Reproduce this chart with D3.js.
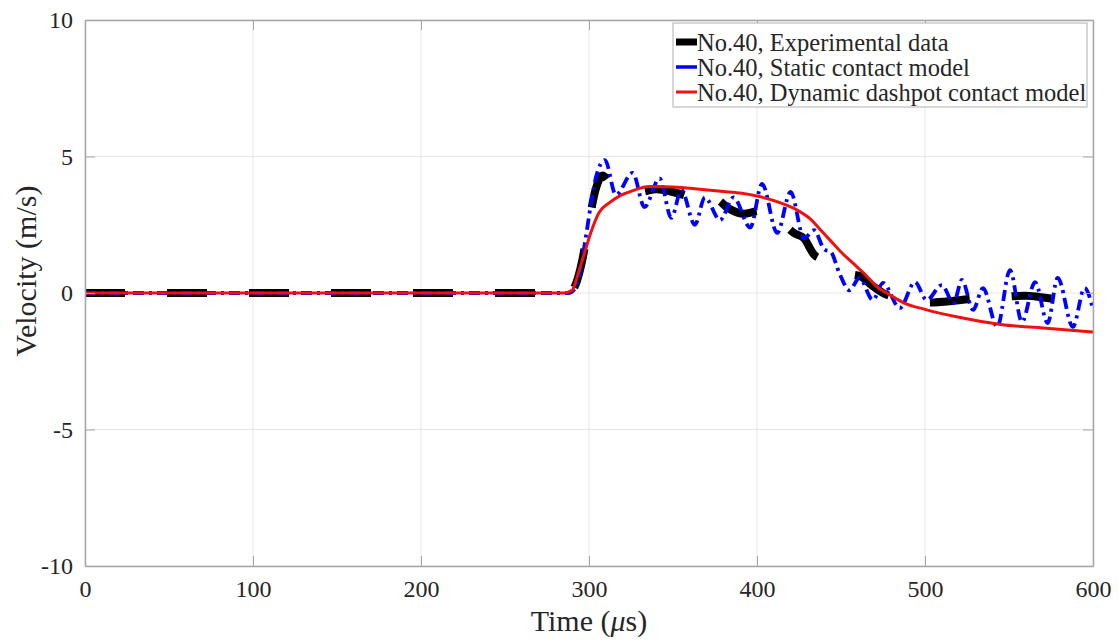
<!DOCTYPE html>
<html>
<head>
<meta charset="utf-8">
<script src="https://cdn.jsdelivr.net/npm/d3@7"></script>
<style>
  html, body { margin: 0; padding: 0; background: #fff; }
  svg { display: block; }
  svg text { font-family: "Liberation Serif", "Times New Roman", serif; }
</style>
</head>
<body>
<svg id="chart" width="1118" height="642"></svg>
<script>
// Axis ticks
const timeTicks = [0, 100, 200, 300, 400, 500, 600];
const velocityTicks = [-10, -5, 0, 5, 10];

// No.40, Experimental data (time in µs, velocity in m/s)
const expTime = [0, 288, 292, 296, 300, 304, 308, 313, 320, 330, 340, 350, 360, 368, 375, 383, 392, 400, 408, 415, 422, 428, 434, 440, 447, 455, 462, 468, 475, 485, 500, 515, 530, 545, 560, 575, 590, 600];
const expVel  = [0, 0, 0.3, 1.2, 2.6, 3.8, 4.3, 4.0, 3.8, 3.7, 3.8, 3.7, 3.5, 3.2, 3.45, 3.1, 2.9, 3.0, 3.05, 2.6, 2.2, 2.0, 1.4, 1.2, 0.9, 0.7, 0.6, 0.3, 0.0, -0.2, -0.35, -0.3, -0.2, -0.15, -0.1, -0.2, -0.25, -0.3];

// No.40, Static contact model
const staticTime = [0, 288, 292, 295, 298, 301, 304, 309.5, 316, 326, 333, 342, 349, 355, 363, 369, 378, 386, 396, 403, 412, 420, 428, 434, 440, 444, 449, 455, 461, 469, 475, 485, 494, 501, 510, 517, 522, 528.6, 534.5, 543, 550.6, 557.7, 565.5, 573, 579, 588, 595, 600];
const staticVel  = [0, 0, 0.2, 0.9, 2.0, 3.2, 4.2, 4.87, 3.6, 4.4, 3.15, 4.2, 2.75, 3.77, 2.5, 3.5, 2.67, 3.5, 2.4, 4.0, 2.2, 3.7, 2.0, 2.3, 1.6, 1.5, 0.73, 0.1, 0.55, -0.26, 0.37, -0.55, 0.4, -0.26, 0.29, -0.37, 0.48, -0.62, 0.18, -1.24, 0.84, -1.06, 0.4, -1.1, 0.55, -1.24, 0.18, -0.6];

// No.40, Dynamic dashpot contact model
const dashpotTime = [0, 285, 290, 293, 297, 301, 306, 312, 318, 326, 336, 350, 366, 380, 390, 400, 414, 425, 432, 438, 444, 450, 457, 464, 471, 480, 487, 500, 521, 545, 574, 600];
const dashpotVel  = [0, 0, 0.1, 0.6, 1.4, 2.2, 2.95, 3.3, 3.55, 3.75, 3.9, 3.88, 3.8, 3.72, 3.66, 3.55, 3.3, 3.0, 2.7, 2.3, 1.9, 1.5, 1.1, 0.7, 0.25, -0.1, -0.35, -0.6, -0.9, -1.15, -1.3, -1.43];

const legendLabels = ["No.40, Experimental data", "No.40, Static contact model", "No.40, Dynamic dashpot contact model"];

const serif = '"Liberation Serif", "Times New Roman", serif';
const textColor = "#262626";

const svg = d3.select("#chart");
const plot = { left: 85, right: 1093, top: 20, bottom: 566 };

const x = d3.scaleLinear().domain([0, 600]).range([plot.left, plot.right]);
const y = d3.scaleLinear().domain([-10, 10]).range([plot.bottom, plot.top]);

// Grid
const grid = svg.append("g").attr("stroke", "#e6e6e6").attr("stroke-width", 1);
timeTicks.forEach(t => grid.append("line")
  .attr("x1", x(t)).attr("x2", x(t)).attr("y1", plot.top).attr("y2", plot.bottom));
velocityTicks.forEach(v => grid.append("line")
  .attr("x1", plot.left).attr("x2", plot.right).attr("y1", y(v)).attr("y2", y(v)));

// Series
const line = d3.line().x(d => x(d[0])).y(d => y(d[1])).curve(d3.curveMonotoneX);
const zip = (a, b) => a.map((t, i) => [t, b[i]]);

svg.append("clipPath").attr("id", "plotclip").append("rect")
  .attr("x", plot.left).attr("y", plot.top)
  .attr("width", plot.right - plot.left).attr("height", plot.bottom - plot.top);

const series = svg.append("g").attr("clip-path", "url(#plotclip)");

series.append("path")
  .attr("d", line(zip(expTime, expVel)))
  .attr("fill", "none").attr("stroke", "#000")
  .attr("stroke-width", 8).attr("stroke-dasharray", "40,42");

series.append("path")
  .attr("d", line(zip(staticTime, staticVel)))
  .attr("fill", "none").attr("stroke", "#0000ff")
  .attr("stroke-width", 3.8).attr("stroke-dasharray", "11,5,3,5");

series.append("path")
  .attr("d", line(zip(dashpotTime, dashpotVel)))
  .attr("fill", "none").attr("stroke", "#f01010")
  .attr("stroke-width", 3);

// Axes box with inward ticks on all sides
const axisColor = "#a6a6a6";
const axisG = svg.append("g");
const fmt = d => String(d);
const xBottom = d3.axisBottom(x).tickValues(timeTicks).tickFormat(fmt).tickSize(-10).tickPadding(14).tickSizeOuter(0);
const xTop = d3.axisTop(x).tickValues(timeTicks).tickSize(-10).tickFormat("").tickSizeOuter(0);
const yLeft = d3.axisLeft(y).tickValues(velocityTicks).tickFormat(fmt).tickSize(-10).tickPadding(12).tickSizeOuter(0);
const yRight = d3.axisRight(y).tickValues(velocityTicks).tickSize(-10).tickFormat("").tickSizeOuter(0);

const gB = axisG.append("g").attr("transform", `translate(0,${plot.bottom})`).call(xBottom);
const gT = axisG.append("g").attr("transform", `translate(0,${plot.top})`).call(xTop);
const gL = axisG.append("g").attr("transform", `translate(${plot.left},0)`).call(yLeft);
const gR = axisG.append("g").attr("transform", `translate(${plot.right},0)`).call(yRight);

[gB, gT, gL, gR].forEach(g => {
  g.attr("font-family", serif).attr("font-size", 24);
  g.select(".domain").attr("stroke", axisColor).attr("stroke-width", 1.5);
  g.selectAll(".tick line").attr("stroke", axisColor).attr("stroke-width", 1);
  g.selectAll("text").style("font-family", serif).attr("font-size", 24).attr("fill", textColor);
});
gB.selectAll("text").attr("dy", "0.71em");

// Axis labels
svg.append("text")
  .attr("x", (plot.left + plot.right) / 2).attr("y", 631)
  .attr("text-anchor", "middle").attr("font-size", 30).attr("fill", textColor)
  .call(t => {
    t.append("tspan").text("Time (");
    t.append("tspan").attr("font-style", "italic").text("\u03bc");
    t.append("tspan").text("s)");
  });

svg.append("text")
  .attr("transform", `translate(36,271) rotate(-90)`)
  .attr("text-anchor", "middle").attr("font-size", 30).attr("fill", textColor)
  .text("Velocity (m/s)");

// Legend
const legend = svg.append("g");
legend.append("rect")
  .attr("x", 673).attr("y", 23).attr("width", 414).attr("height", 84)
  .attr("fill", "#fff").attr("stroke", "#b0b0b0").attr("stroke-width", 1);

const legendStyles = [
  { color: "#000", width: 7 },
  { color: "#0000ff", width: 3.5 },
  { color: "#f01010", width: 3 }
];
legendLabels.forEach((label, i) => {
  const cy = 42 + i * 25;
  legend.append("line")
    .attr("x1", 676).attr("x2", 697).attr("y1", cy).attr("y2", cy)
    .attr("stroke", legendStyles[i].color).attr("stroke-width", legendStyles[i].width);
  legend.append("text")
    .attr("x", 697).attr("y", cy).attr("dy", "0.35em")
    .attr("font-size", 24.5).attr("fill", textColor)
    .text(label);
});
</script>
</body>
</html>
